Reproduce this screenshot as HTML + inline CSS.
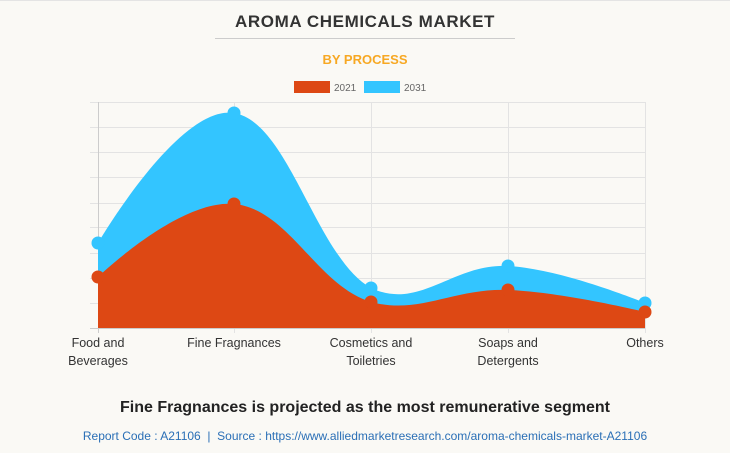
<!DOCTYPE html>
<html><head><meta charset="utf-8"><style>
body{margin:0;background:#fff;}
.wrap{position:relative;width:730px;height:453px;background:#faf9f5;font-family:"Liberation Sans",sans-serif;overflow:hidden;border-top:1px solid #e4e4e4;box-sizing:border-box}
.t{position:absolute;left:0;width:730px;text-align:center}
</style></head><body><div class="wrap">
<div class="t" style="top:11px;font-size:17px;font-weight:bold;color:#333;letter-spacing:0.6px">AROMA CHEMICALS MARKET</div>
<div style="position:absolute;left:215px;top:37px;width:300px;height:1px;background:#ccc"></div>
<div class="t" style="top:51px;font-size:13px;font-weight:bold;color:#f7a823">BY PROCESS</div>
<svg style="position:absolute;left:0;top:0" width="730" height="453">
<rect x="294" y="80" width="36" height="12" fill="#dd4814"/>
<text x="334" y="90" font-size="10" fill="#666" font-family="Liberation Sans">2021</text>
<rect x="364" y="80" width="36" height="12" fill="#33c5ff"/>
<text x="404" y="90" font-size="10" fill="#666" font-family="Liberation Sans">2031</text>
<g stroke="#e3e3e3" stroke-width="1">
<line x1="90" y1="101.5" x2="645" y2="101.5"/><line x1="90" y1="126.5" x2="645" y2="126.5"/><line x1="90" y1="151.5" x2="645" y2="151.5"/><line x1="90" y1="176.5" x2="645" y2="176.5"/><line x1="90" y1="202.5" x2="645" y2="202.5"/><line x1="90" y1="226.5" x2="645" y2="226.5"/><line x1="90" y1="252.5" x2="645" y2="252.5"/><line x1="90" y1="277.5" x2="645" y2="277.5"/><line x1="90" y1="302.5" x2="645" y2="302.5"/>
<line x1="234.5" y1="101" x2="234.5" y2="332"/><line x1="371.5" y1="101" x2="371.5" y2="332"/><line x1="508.5" y1="101" x2="508.5" y2="332"/><line x1="645.5" y1="101" x2="645.5" y2="332"/>
</g>
<line x1="98.5" y1="101" x2="98.5" y2="332" stroke="#ccc"/>
<line x1="90" y1="327.5" x2="645" y2="327.5" stroke="#ccc"/>
<path d="M98,242 C98,242 179,103 234,112 C289,121 316,256 371,287 C420,310 453,262 508,265 C563,268 645,302 645,302 L645,327 L98,327Z" fill="#33c5ff"/>
<path d="M98,276 C98,276 179,198 234,203 C289,208 316,284 371,301 C420,314 453,287 508,289 C563,291 645,311 645,311 L645,327 L98,327Z" fill="#dd4814"/>
<g fill="#33c5ff"><circle cx="98" cy="242" r="6.5"/><circle cx="234" cy="112" r="6.5"/><circle cx="371" cy="287" r="6.5"/><circle cx="508" cy="265" r="6.5"/><circle cx="645" cy="302" r="6.5"/></g>
<g fill="#dd4814"><circle cx="98" cy="276" r="6.5"/><circle cx="234" cy="203" r="6.5"/><circle cx="371" cy="301" r="6.5"/><circle cx="508" cy="289" r="6.5"/><circle cx="645" cy="311" r="6.5"/></g>
<g font-size="12.5" fill="#333" font-family="Liberation Sans" text-anchor="middle">
<text x="98" y="346">Food and</text><text x="98" y="364">Beverages</text>
<text x="234" y="346">Fine Fragnances</text>
<text x="371" y="346">Cosmetics and</text><text x="371" y="364">Toiletries</text>
<text x="508" y="346">Soaps and</text><text x="508" y="364">Detergents</text>
<text x="645" y="346">Others</text>
</g>
</svg>
<div class="t" style="top:398px;font-size:16px;font-weight:bold;color:#222">Fine Fragnances is projected as the most remunerative segment</div>
<div class="t" style="top:428px;font-size:12px;color:#2a6fb6">Report Code : A21106 &nbsp;|&nbsp; Source : https://www.alliedmarketresearch.com/aroma-chemicals-market-A21106</div>
</div></body></html>
